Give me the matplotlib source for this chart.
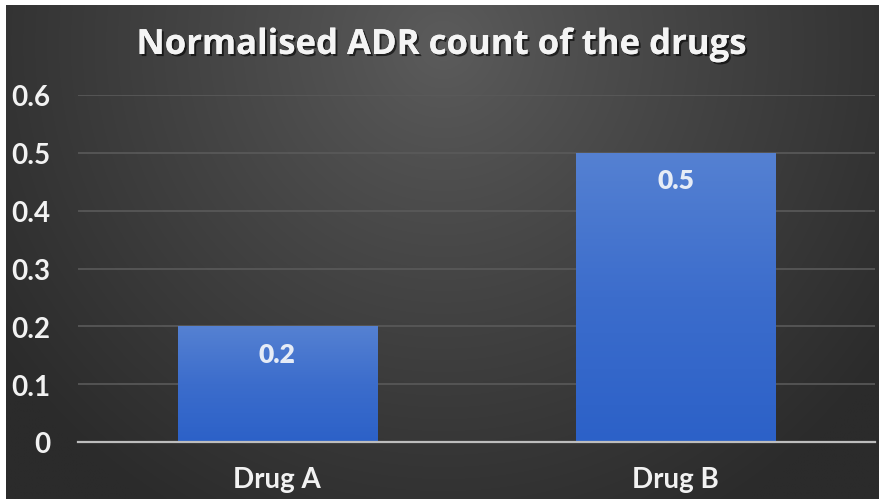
import numpy as np
import matplotlib
matplotlib.use("Agg")
import matplotlib.pyplot as plt
from matplotlib.colors import LinearSegmentedColormap
import matplotlib.patheffects as pe
from matplotlib.ticker import FuncFormatter, MultipleLocator

# ---- data ----
categories = ["Drug A", "Drug B"]
values = [0.2, 0.5]
value_labels = ["0.2", "0.5"]
title = "Normalised ADR count of the drugs"

plt.rcParams['font.family'] = ['Lato', 'DejaVu Sans']

W, H = 883, 502
fig = plt.figure(figsize=(W / 100, H / 100), dpi=100, facecolor='white')

# background with radial gradient
bg = fig.add_axes([6 / W, 2 / H, (879 - 6) / W, (500 - 6) / H])
bg.set_zorder(0)
ny, nx = 300, 500
yy, xx = np.mgrid[0:ny, 0:nx]
cx, cy = nx * 0.5, ny * 0.08
d = np.sqrt(((xx - cx) / (nx * 0.62)) ** 2 + ((yy - cy) / (ny * 1.1)) ** 2)
d = np.clip(d, 0, 1) ** 0.9
c_in = np.array([0x5c, 0x5c, 0x5c]) / 255
c_out = np.array([0x2b, 0x2b, 0x2b]) / 255
img = c_in[None, None, :] * (1 - d[..., None]) + c_out[None, None, :] * d[..., None]
bg.imshow(img, extent=[0, 1, 0, 1], aspect='auto', origin='upper', interpolation='bilinear')
bg.axis('off')

# main axes
ax = fig.add_axes([78 / W, (H - 443) / H, (875 - 78) / W, (443 - 96) / H])
ax.set_zorder(1)
ax.patch.set_alpha(0)

x = np.arange(len(categories))
bars = ax.bar(x, values, width=0.5, color='#3a6bca', zorder=2)

cmap = LinearSegmentedColormap.from_list('barg', ['#2c61c8', '#3c6dcc', '#5581d2'])
grad = np.linspace(0, 1, 256).reshape(-1, 1)
for b in bars:
    x0, w, h = b.get_x(), b.get_width(), b.get_height()
    im = ax.imshow(grad, extent=[x0, x0 + w, 0, h], cmap=cmap, aspect='auto',
                   origin='lower', zorder=2.1)
    im.set_clip_path(b)

ax.set_xlim(-0.5, len(categories) - 0.5)
ax.set_ylim(0, 0.6)
ax.yaxis.set_major_locator(MultipleLocator(0.1))
ax.yaxis.set_major_formatter(FuncFormatter(lambda v, p: '0' if abs(v) < 1e-9 else f'{v:.1f}'))
ax.set_xticks(x)
ax.set_xticklabels(categories)

ax.yaxis.grid(True, color='#5a5a5a', lw=1.2, zorder=1)
ax.set_axisbelow(True)
for s in ['top', 'right', 'left']:
    ax.spines[s].set_visible(False)
ax.spines['bottom'].set_color('#bdbdbd')
ax.spines['bottom'].set_linewidth(1.6)
ax.spines['bottom'].set_zorder(3)

ax.tick_params(axis='both', length=0, labelcolor='#f2f2f2', labelsize=20)
ax.tick_params(axis='y', pad=20)
ax.tick_params(axis='x', pad=17)
for lab in ax.get_xticklabels() + ax.get_yticklabels():
    lab.set_fontweight('bold')

for b, lab in zip(bars, value_labels):
    ax.annotate(lab, (b.get_x() + b.get_width() / 2, b.get_height()),
                xytext=(0, -11), textcoords='offset points', ha='center', va='top',
                fontsize=19, fontweight='heavy', color='#e6ecf6', zorder=4)

fig.text(0.5, 1 - 55 / H, title, ha='center', va='baseline', fontsize=25,
         fontweight='bold', color='#f4f4f4', family=['Open Sans', 'DejaVu Sans'],
         path_effects=[pe.withSimplePatchShadow(offset=(1.5, -1.5), shadow_rgbFace='black', alpha=0.6), pe.Normal()])

fig.savefig('out.png', dpi=100, facecolor='white')
